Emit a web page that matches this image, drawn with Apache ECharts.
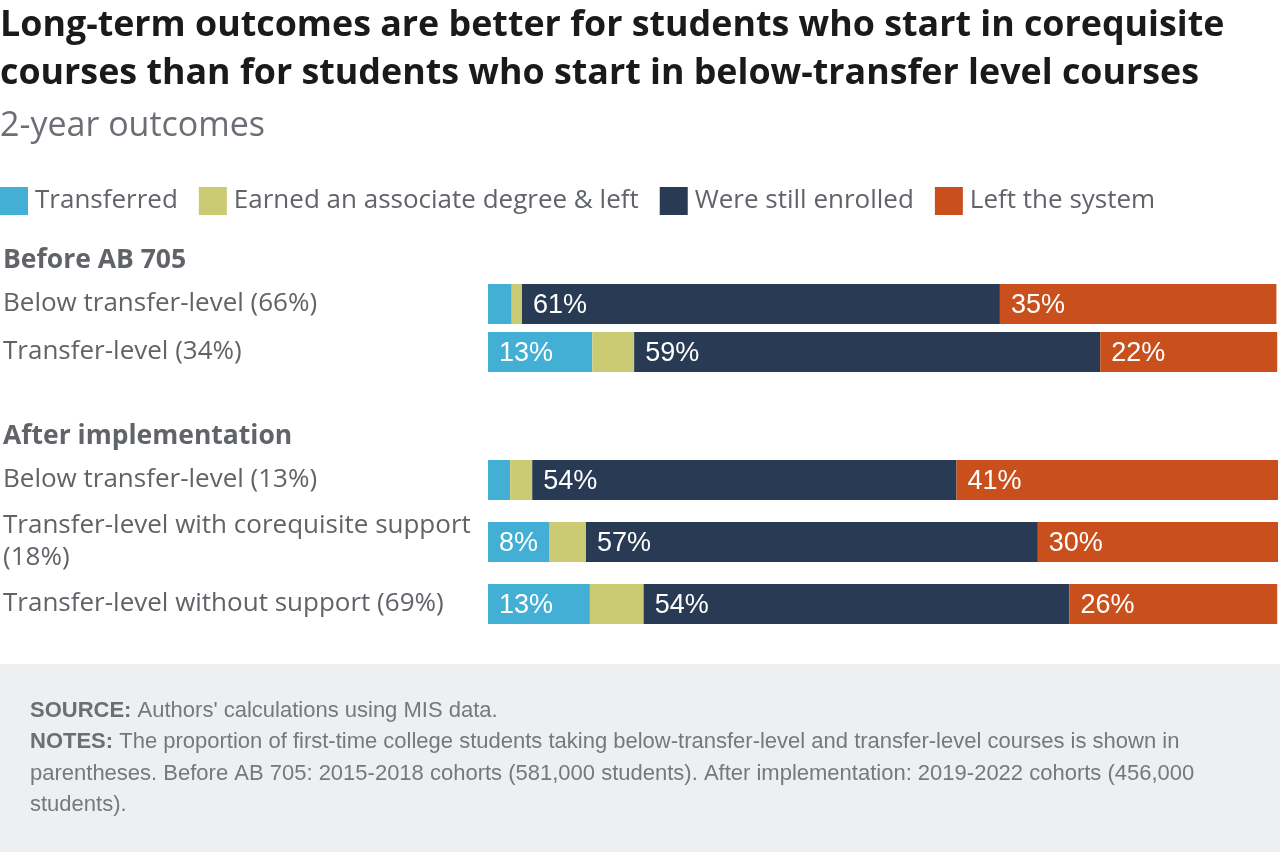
<!DOCTYPE html>
<html>
<head>
<meta charset="utf-8">
<script src="https://cdn.jsdelivr.net/npm/echarts@6/dist/echarts.min.js"></script>
<style>
  html, body { margin: 0; padding: 0; background: #fff; }
  #chart { width: 1280px; height: 852px; }
</style>
</head>
<body>
<div id="chart"></div>
<script>
// categories (two groups)
var groupNames = ["Before AB 705", "After implementation"];
var catsBefore = ["Below transfer-level (66%)", "Transfer-level (34%)"];
var catsAfter = ["Below transfer-level (13%)", "Transfer-level with corequisite support (18%)", "Transfer-level without support (69%)"];
var seriesNames = ["Transferred", "Earned an associate degree & left", "Were still enrolled", "Left the system"];

// shares in %
var transferredBefore = [3, 13.2];
var earnedBefore = [1.3, 5.3];
var enrolledBefore = [60.5, 59];
var leftBefore = [35, 22.4];

var transferredAfter = [2.8, 7.8, 12.9];
var earnedAfter = [2.8, 4.6, 6.8];
var enrolledAfter = [53.7, 57.2, 53.9];
var leftAfter = [40.8, 30.4, 26.3];

var colors = ["#43afd4", "#cbcb74", "#293a55", "#c9501c"];
var grayText = "#606368";
var labelFont = "'Liberation Sans', Arial, sans-serif";
var mainFont = "'Open Sans', Lato, sans-serif";

function makeSeries(idx, data, gi) {
    return {
        name: seriesNames[idx],
        type: "bar",
        stack: "s" + gi,
        xAxisIndex: gi,
        yAxisIndex: gi,
        barWidth: 40,
        data: data,
        itemStyle: { color: colors[idx] },
        label: {
            show: true,
            position: "insideLeft",
            distance: 11,
            offset: [0, 2],
            color: "#fff",
            fontFamily: labelFont,
            fontSize: 27,
            formatter: function (p) { return p.value >= 7 ? Math.round(p.value) + "%" : ""; }
        },
        emphasis: { disabled: true }
    };
}

function yAxis(gi, cats) {
    return {
        type: "category",
        gridIndex: gi,
        data: cats,
        inverse: true,
        axisLine: { show: false },
        axisTick: { show: false },
        axisLabel: {
            margin: 485,
            align: "left",
            color: grayText,
            fontFamily: mainFont,
            fontSize: 26,
            lineHeight: 32,
            padding: [5, 0, 0, 0],
            width: 478,
            overflow: "break"
        }
    };
}

function xAxis(gi) {
    return { type: "value", gridIndex: gi, min: 0, max: 100, show: false };
}

var option = {
    animation: false,
    grid: [
        { left: 488, width: 790, top: 280, height: 96 },
        { left: 488, width: 790, top: 449, height: 186 }
    ],
    legend: {
        data: seriesNames,
        left: 0,
        top: 187,
        padding: 0,
        icon: "rect",
        itemWidth: 28,
        itemHeight: 28,
        itemGap: 21,
        textStyle: { color: grayText, fontFamily: mainFont, fontSize: 26, padding: [3, 0, 0, 2] }
    },
    xAxis: [xAxis(0), xAxis(1)],
    yAxis: [yAxis(0, catsBefore), yAxis(1, catsAfter)],
    series: [
        makeSeries(0, transferredBefore, 0),
        makeSeries(1, earnedBefore, 0),
        makeSeries(2, enrolledBefore, 0),
        makeSeries(3, leftBefore, 0),
        makeSeries(0, transferredAfter, 1),
        makeSeries(1, earnedAfter, 1),
        makeSeries(2, enrolledAfter, 1),
        makeSeries(3, leftAfter, 1)
    ],
    graphic: [
        {
            type: "text", left: 0, top: 2,
            style: {
                text: "Long-term outcomes are better for students who start in corequisite\ncourses than for students who start in below-transfer level courses",
                fill: "#1a1a1a", font: "bold 35.8px " + mainFont, lineHeight: 48
            }
        },
        {
            type: "text", left: 0, top: 107,
            style: { text: "2-year outcomes", fill: "#6b6f75", font: "34px " + mainFont, lineHeight: 38 }
        },
        {
            type: "text", left: 3, top: 244,
            style: { text: groupNames[0], fill: grayText, font: "bold 26.5px " + mainFont, lineHeight: 32 }
        },
        {
            type: "text", left: 3, top: 420,
            style: { text: groupNames[1], fill: grayText, font: "bold 26.5px " + mainFont, lineHeight: 32 }
        },
        {
            type: "rect", left: 0, top: 664, z: -1,
            shape: { width: 1280, height: 188 },
            style: { fill: "#eeeff1" }
        },
        {
            type: "text", left: 30, top: 695,
            style: {
                text: "{b|SOURCE:} Authors' calculations using MIS data.\n" +
                      "{b|NOTES:} The proportion of first-time college students taking below-transfer-level and transfer-level courses is shown in\n" +
                      "parentheses. Before AB 705: 2015-2018 cohorts (581,000 students). After implementation: 2019-2022 cohorts (456,000\n" +
                      "students).",
                fill: "#75787c",
                font: "22px " + labelFont,
                lineHeight: 31.5,
                rich: {
                    b: { fontWeight: "bold", fontSize: 22, fontFamily: labelFont, fill: "#6b6e72", lineHeight: 31.5 }
                }
            }
        }
    ]
};

echarts.init(document.getElementById("chart")).setOption(option);
</script>
</body>
</html>
